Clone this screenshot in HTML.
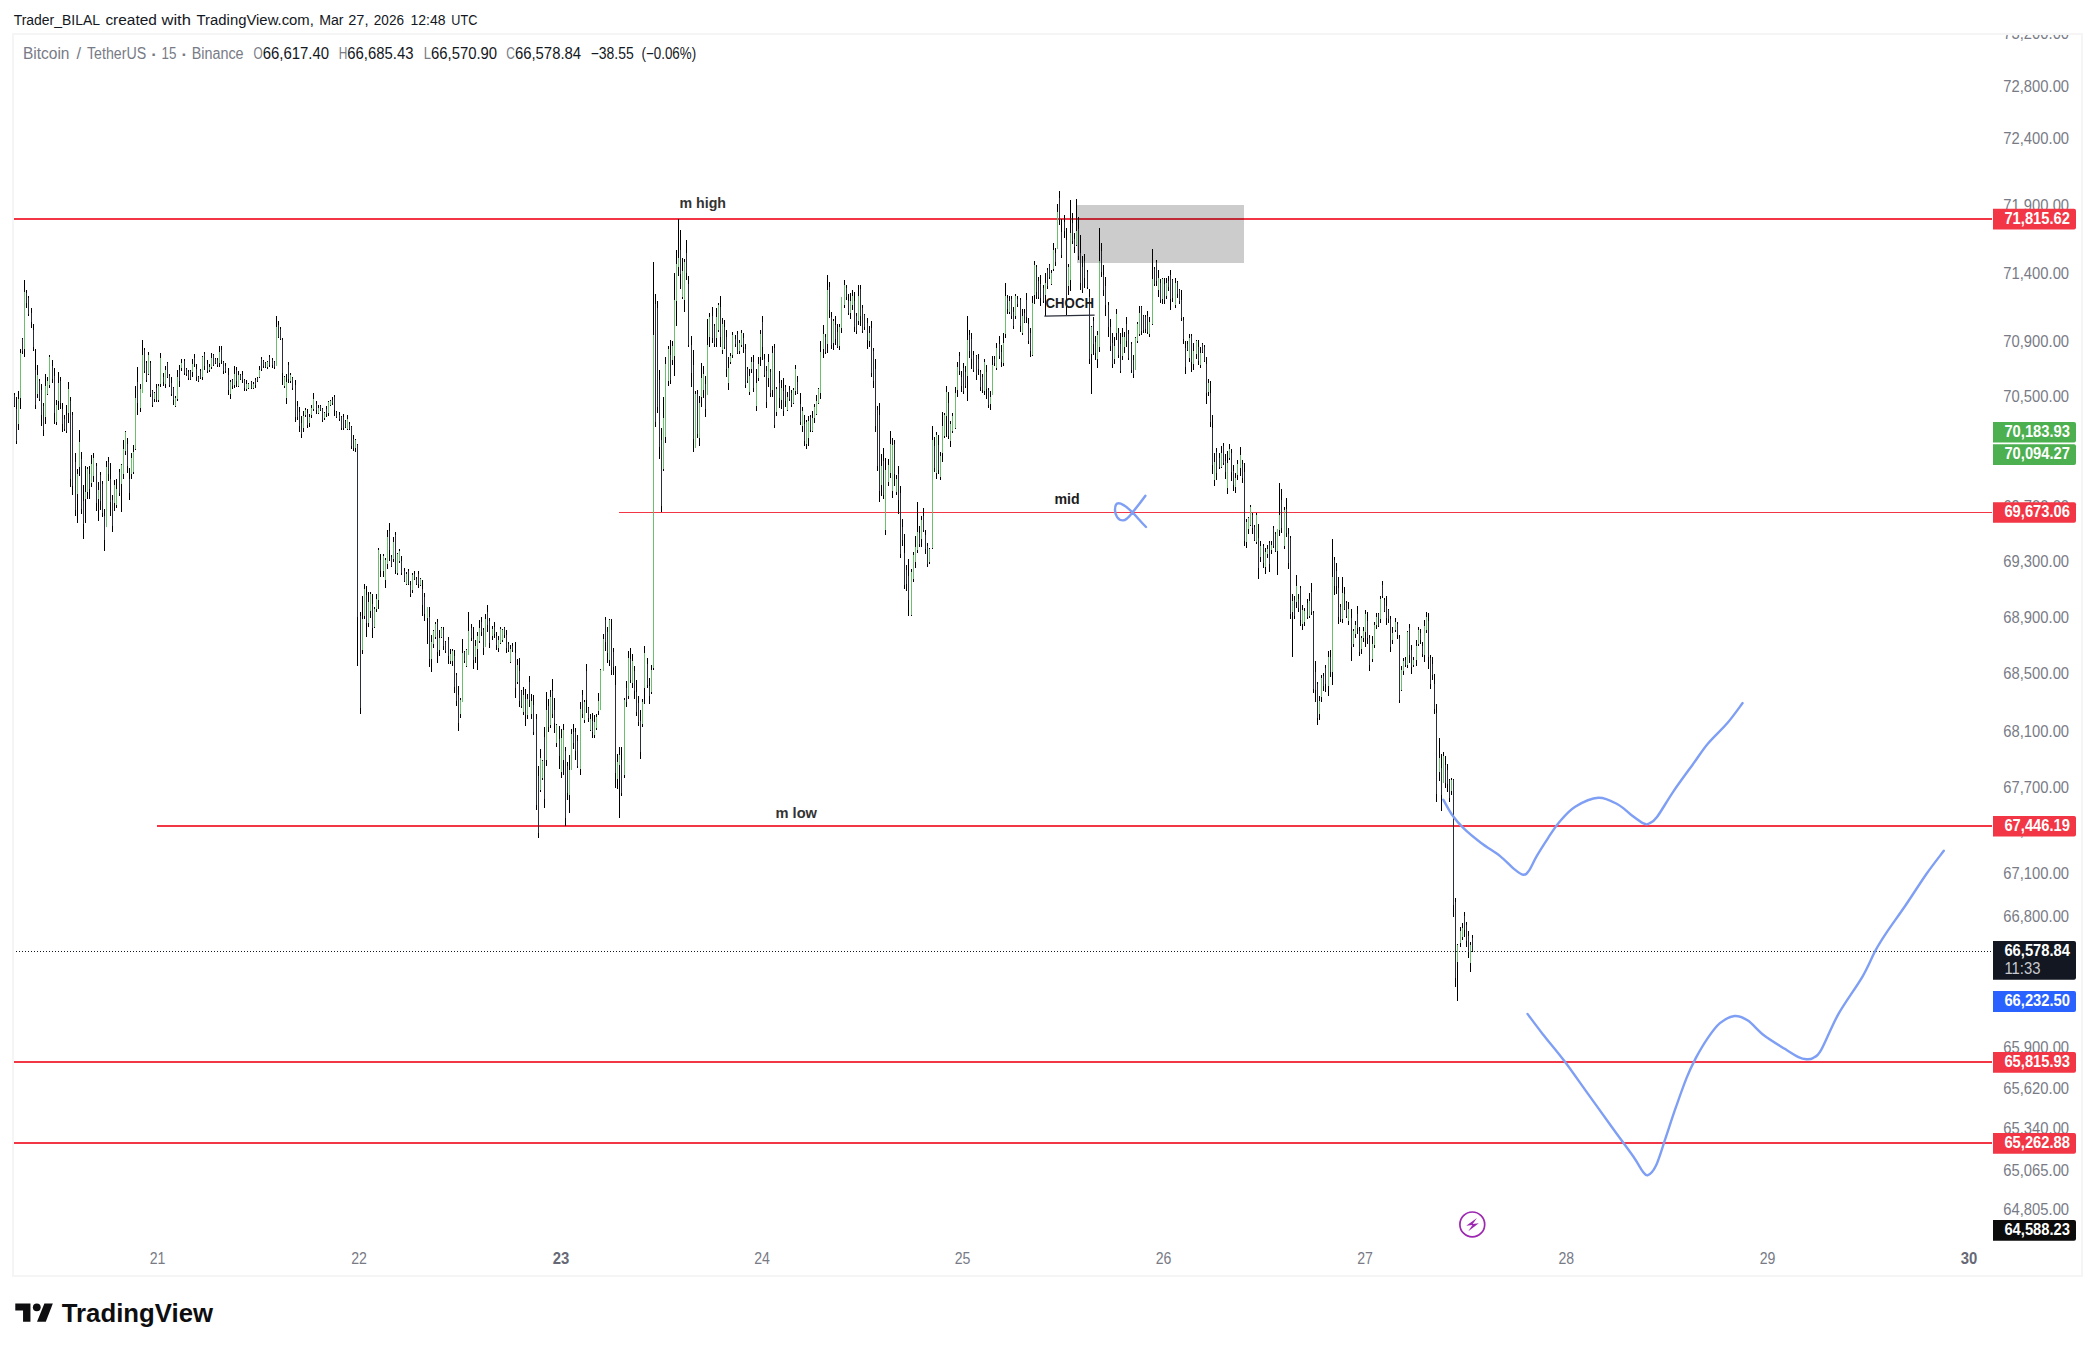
<!DOCTYPE html>
<html lang="en"><head><meta charset="utf-8"><title>BTCUSDT chart</title>
<style>html,body{margin:0;padding:0;background:#fff}body{width:2095px;height:1351px;overflow:hidden}svg{display:block}text{font-family:"Liberation Sans", sans-serif}</style>
</head><body>
<svg width="2095" height="1351" viewBox="0 0 2095 1351">
<rect x="0" y="0" width="2095" height="1351" fill="#ffffff"/>
<g id="frame">
<rect x="13" y="34" width="2069" height="1242" fill="none" stroke="#f5f5f5" stroke-width="2"/>
</g>
<text x="13.7" y="24.9" font-size="15.1" fill="#131722" font-weight="normal" text-anchor="start" textLength="86.3" lengthAdjust="spacingAndGlyphs">Trader_BILAL</text>
<text x="105.4" y="24.9" font-size="15.1" fill="#131722" font-weight="normal" text-anchor="start" textLength="51.5" lengthAdjust="spacingAndGlyphs">created</text>
<text x="161.5" y="24.9" font-size="15.1" fill="#131722" font-weight="normal" text-anchor="start" textLength="29.4" lengthAdjust="spacingAndGlyphs">with</text>
<text x="196.6" y="24.9" font-size="15.1" fill="#131722" font-weight="normal" text-anchor="start" textLength="117.3" lengthAdjust="spacingAndGlyphs">TradingView.com,</text>
<text x="319.2" y="24.9" font-size="15.1" fill="#131722" font-weight="normal" text-anchor="start" textLength="24.4" lengthAdjust="spacingAndGlyphs">Mar</text>
<text x="348.2" y="24.9" font-size="15.1" fill="#131722" font-weight="normal" text-anchor="start" textLength="20.3" lengthAdjust="spacingAndGlyphs">27,</text>
<text x="373.8" y="24.9" font-size="15.1" fill="#131722" font-weight="normal" text-anchor="start" textLength="30.2" lengthAdjust="spacingAndGlyphs">2026</text>
<text x="410.5" y="24.9" font-size="15.1" fill="#131722" font-weight="normal" text-anchor="start" textLength="35.1" lengthAdjust="spacingAndGlyphs">12:48</text>
<text x="451.3" y="24.9" font-size="15.1" fill="#131722" font-weight="normal" text-anchor="start" textLength="26.0" lengthAdjust="spacingAndGlyphs">UTC</text>
<text x="22.9" y="58.9" font-size="16" fill="#787b86" font-weight="normal" text-anchor="start" textLength="46.6" lengthAdjust="spacingAndGlyphs">Bitcoin</text>
<text x="76.4" y="58.9" font-size="16" fill="#787b86" font-weight="normal" text-anchor="start" textLength="4.6" lengthAdjust="spacingAndGlyphs">/</text>
<text x="87.0" y="58.9" font-size="16" fill="#787b86" font-weight="normal" text-anchor="start" textLength="59.2" lengthAdjust="spacingAndGlyphs">TetherUS</text>
<text x="154.1" y="60.1" font-size="17" fill="#787b86" font-weight="bold" text-anchor="middle">·</text>
<text x="161.5" y="58.9" font-size="16" fill="#787b86" font-weight="normal" text-anchor="start" textLength="14.9" lengthAdjust="spacingAndGlyphs">15</text>
<text x="184.4" y="60.1" font-size="17" fill="#787b86" font-weight="bold" text-anchor="middle">·</text>
<text x="191.7" y="58.9" font-size="16" fill="#787b86" font-weight="normal" text-anchor="start" textLength="51.9" lengthAdjust="spacingAndGlyphs">Binance</text>
<text x="253.5" y="58.9" font-size="16" fill="#787b86" font-weight="normal" text-anchor="start" textLength="9.2" lengthAdjust="spacingAndGlyphs">O</text>
<text x="262.7" y="58.9" font-size="16" fill="#131722" font-weight="normal" text-anchor="start" textLength="66.4" lengthAdjust="spacingAndGlyphs">66,617.40</text>
<text x="338.7" y="58.9" font-size="16" fill="#787b86" font-weight="normal" text-anchor="start" textLength="8.6" lengthAdjust="spacingAndGlyphs">H</text>
<text x="347.3" y="58.9" font-size="16" fill="#131722" font-weight="normal" text-anchor="start" textLength="66.2" lengthAdjust="spacingAndGlyphs">66,685.43</text>
<text x="423.8" y="58.9" font-size="16" fill="#787b86" font-weight="normal" text-anchor="start" textLength="7.2" lengthAdjust="spacingAndGlyphs">L</text>
<text x="431.0" y="58.9" font-size="16" fill="#131722" font-weight="normal" text-anchor="start" textLength="66.1" lengthAdjust="spacingAndGlyphs">66,570.90</text>
<text x="506.3" y="58.9" font-size="16" fill="#787b86" font-weight="normal" text-anchor="start" textLength="8.6" lengthAdjust="spacingAndGlyphs">C</text>
<text x="514.9" y="58.9" font-size="16" fill="#131722" font-weight="normal" text-anchor="start" textLength="66.2" lengthAdjust="spacingAndGlyphs">66,578.84</text>
<text x="590.7" y="58.9" font-size="16" fill="#131722" font-weight="normal" text-anchor="start" textLength="43.1" lengthAdjust="spacingAndGlyphs">−38.55</text>
<text x="641.5" y="58.9" font-size="16" fill="#131722" font-weight="normal" text-anchor="start" textLength="54.6" lengthAdjust="spacingAndGlyphs">(−0.06%)</text>
<defs><clipPath id="pane"><rect x="14" y="35" width="2067" height="1240"/></clipPath></defs>
<g clip-path="url(#pane)">
<text x="2003.3" y="38.7" font-size="15.9" fill="#787b86" font-weight="normal" text-anchor="start" textLength="65.8" lengthAdjust="spacingAndGlyphs">73,200.00</text>
<text x="2003.3" y="91.9" font-size="15.9" fill="#787b86" font-weight="normal" text-anchor="start" textLength="65.8" lengthAdjust="spacingAndGlyphs">72,800.00</text>
<text x="2003.3" y="144.2" font-size="15.9" fill="#787b86" font-weight="normal" text-anchor="start" textLength="65.8" lengthAdjust="spacingAndGlyphs">72,400.00</text>
<text x="2003.3" y="210.9" font-size="15.9" fill="#787b86" font-weight="normal" text-anchor="start" textLength="65.8" lengthAdjust="spacingAndGlyphs">71,900.00</text>
<text x="2003.3" y="279.4" font-size="15.9" fill="#787b86" font-weight="normal" text-anchor="start" textLength="65.8" lengthAdjust="spacingAndGlyphs">71,400.00</text>
<text x="2003.3" y="347.3" font-size="15.9" fill="#787b86" font-weight="normal" text-anchor="start" textLength="65.8" lengthAdjust="spacingAndGlyphs">70,900.00</text>
<text x="2003.3" y="401.7" font-size="15.9" fill="#787b86" font-weight="normal" text-anchor="start" textLength="65.8" lengthAdjust="spacingAndGlyphs">70,500.00</text>
<text x="2003.3" y="511.7" font-size="15.9" fill="#787b86" font-weight="normal" text-anchor="start" textLength="65.8" lengthAdjust="spacingAndGlyphs">69,700.00</text>
<text x="2003.3" y="567.3" font-size="15.9" fill="#787b86" font-weight="normal" text-anchor="start" textLength="65.8" lengthAdjust="spacingAndGlyphs">69,300.00</text>
<text x="2003.3" y="623.4" font-size="15.9" fill="#787b86" font-weight="normal" text-anchor="start" textLength="65.8" lengthAdjust="spacingAndGlyphs">68,900.00</text>
<text x="2003.3" y="679.2" font-size="15.9" fill="#787b86" font-weight="normal" text-anchor="start" textLength="65.8" lengthAdjust="spacingAndGlyphs">68,500.00</text>
<text x="2003.3" y="736.7" font-size="15.9" fill="#787b86" font-weight="normal" text-anchor="start" textLength="65.8" lengthAdjust="spacingAndGlyphs">68,100.00</text>
<text x="2003.3" y="793.3" font-size="15.9" fill="#787b86" font-weight="normal" text-anchor="start" textLength="65.8" lengthAdjust="spacingAndGlyphs">67,700.00</text>
<text x="2003.3" y="836.0" font-size="15.9" fill="#787b86" font-weight="normal" text-anchor="start" textLength="65.8" lengthAdjust="spacingAndGlyphs">67,400.00</text>
<text x="2003.3" y="879.1" font-size="15.9" fill="#787b86" font-weight="normal" text-anchor="start" textLength="65.8" lengthAdjust="spacingAndGlyphs">67,100.00</text>
<text x="2003.3" y="922.4" font-size="15.9" fill="#787b86" font-weight="normal" text-anchor="start" textLength="65.8" lengthAdjust="spacingAndGlyphs">66,800.00</text>
<text x="2003.3" y="965.6" font-size="15.9" fill="#787b86" font-weight="normal" text-anchor="start" textLength="65.8" lengthAdjust="spacingAndGlyphs">66,500.00</text>
<text x="2003.3" y="1009.3" font-size="15.9" fill="#787b86" font-weight="normal" text-anchor="start" textLength="65.8" lengthAdjust="spacingAndGlyphs">66,200.00</text>
<text x="2003.3" y="1052.5" font-size="15.9" fill="#787b86" font-weight="normal" text-anchor="start" textLength="65.8" lengthAdjust="spacingAndGlyphs">65,900.00</text>
<text x="2003.3" y="1094.1" font-size="15.9" fill="#787b86" font-weight="normal" text-anchor="start" textLength="65.8" lengthAdjust="spacingAndGlyphs">65,620.00</text>
<text x="2003.3" y="1134.0" font-size="15.9" fill="#787b86" font-weight="normal" text-anchor="start" textLength="65.8" lengthAdjust="spacingAndGlyphs">65,340.00</text>
<text x="2003.3" y="1176.3" font-size="15.9" fill="#787b86" font-weight="normal" text-anchor="start" textLength="65.8" lengthAdjust="spacingAndGlyphs">65,065.00</text>
<text x="2003.3" y="1215.2" font-size="15.9" fill="#787b86" font-weight="normal" text-anchor="start" textLength="65.8" lengthAdjust="spacingAndGlyphs">64,805.00</text>
<rect x="14" y="218" width="1978" height="2" fill="#f23645"/>
<rect x="619" y="512" width="1373" height="1" fill="#f23645"/>
<rect x="157" y="825" width="1835" height="2" fill="#f23645"/>
<rect x="14" y="1061" width="1978" height="2" fill="#f23645"/>
<rect x="14" y="1142" width="1978" height="2" fill="#f23645"/>
<line x1="13" y1="951.5" x2="1991" y2="951.5" stroke="#131722" stroke-width="1" stroke-dasharray="1 2" shape-rendering="crispEdges"/>
<g id="candles" fill="none" stroke-width="1" shape-rendering="crispEdges"><path stroke="#000000" d="M14.5,393V407M16.5,397V444M18.5,391V430M20.5,349V409M22.5,338V354M24.5,280V357M26.5,290V308M28.5,296V316M31.5,308V328M33.5,324V351M35.5,349V409M37.5,365V398M39.5,379V401M41.5,384V426M43.5,403V436M45.5,374V424M47.5,377V395M49.5,355V388M52.5,360V383M54.5,368V424M56.5,400V425M58.5,372V410M60.5,377V409M62.5,403V432M64.5,415V431M66.5,405V433M68.5,382V423M70.5,397V487M72.5,412V495M75.5,453V516M77.5,469V523M79.5,430V476M81.5,452V514M83.5,485V539M85.5,466V523M87.5,467V499M89.5,466V499M91.5,455V487M93.5,453V482M96.5,463V511M98.5,482V521M100.5,472V510M102.5,481V517M104.5,509V551M106.5,461V527M108.5,457V481M110.5,463V516M112.5,495V532M114.5,480V511M116.5,479V508M119.5,469V496M121.5,464V512M123.5,440V479M125.5,431V455M127.5,438V473M129.5,468V500M131.5,453V479M133.5,445V474M135.5,386V450M137.5,367V415M140.5,384V412M142.5,340V393M144.5,348V373M146.5,361V382M148.5,352V375M150.5,361V397M152.5,390V407M154.5,392V402M156.5,384V402M158.5,384V402M160.5,353V387M163.5,373V386M165.5,366V388M167.5,362V378M169.5,374V387M171.5,377V396M173.5,387V405M175.5,396V407M177.5,370V401M179.5,365V387M181.5,359V371M184.5,359V375M186.5,368V376M188.5,370V380M190.5,370V380M192.5,359V377M194.5,354V367M196.5,364V381M198.5,376V382M200.5,369V379M202.5,356V380M204.5,352V370M207.5,360V373M209.5,364V372M211.5,353V369M213.5,354V366M215.5,358V364M217.5,358V367M219.5,346V367M221.5,346V364M223.5,361V374M225.5,363V373M228.5,368V395M230.5,380V399M232.5,379V389M234.5,366V388M236.5,367V387M238.5,371V387M240.5,374V380M242.5,371V383M244.5,379V391M246.5,380V391M248.5,383V389M251.5,381V389M253.5,382V389M255.5,378V388M257.5,377V382M259.5,366V378M261.5,357V371M263.5,360V368M265.5,362V368M267.5,361V369M269.5,355V367M272.5,358V368M274.5,361V369M276.5,316V366M278.5,321V338M280.5,327V340M282.5,338V385M284.5,376V388M286.5,374V404M288.5,362V383M290.5,373V383M292.5,377V390M295.5,380V422M297.5,401V420M299.5,407V432M301.5,416V438M303.5,411V432M305.5,408V417M307.5,409V428M309.5,414V427M311.5,405V418M313.5,393V411M316.5,401V414M318.5,405V414M320.5,405V411M322.5,408V422M324.5,412V420M326.5,406V417M328.5,401V416M330.5,400V406M332.5,397V405M334.5,395V416M336.5,411V418M339.5,412V421M341.5,416V430M343.5,414V430M345.5,420V428M347.5,415V430M349.5,422V430M351.5,426V449M353.5,435V451M355.5,439V452M357.5,444V666M360.5,612V714M362.5,596V654M364.5,584V619M366.5,586V637M368.5,592V627M370.5,592V618M372.5,594V638M374.5,607V628M376.5,594V612M378.5,548V609M380.5,554V577M383.5,554V577M385.5,558V588M387.5,530V569M389.5,523V561M391.5,555V567M393.5,537V562M395.5,532V574M397.5,553V575M399.5,549V563M401.5,556V575M404.5,568V582M406.5,572V585M408.5,569V585M410.5,581V597M412.5,573V593M414.5,571V580M416.5,577V585M418.5,571V588M420.5,578V586M422.5,580V616M424.5,593V621M427.5,607V644M429.5,607V667M431.5,635V672M433.5,630V648M435.5,622V639M437.5,619V663M439.5,630V656M441.5,627V638M443.5,627V650M445.5,641V653M448.5,637V664M450.5,649V664M452.5,649V666M454.5,650V693M456.5,673V706M458.5,686V731M460.5,698V718M462.5,639V702M464.5,651V663M466.5,649V667M468.5,612V655M471.5,624V641M473.5,627V669M475.5,640V663M477.5,632V670M479.5,620V643M481.5,617V636M483.5,628V655M485.5,614V647M487.5,605V632M489.5,618V648M492.5,626V640M494.5,622V638M496.5,632V650M498.5,636V652M500.5,627V644M502.5,629V642M504.5,627V638M506.5,630V653M508.5,642V652M510.5,645V663M512.5,643V652M515.5,642V698M517.5,659V684M519.5,658V707M521.5,690V708M523.5,687V715M525.5,689V726M527.5,694V719M529.5,676V707M531.5,694V719M533.5,695V735M536.5,714V810M538.5,766V838M540.5,749V792M542.5,760V780M544.5,727V808M546.5,692V766M548.5,699V732M550.5,690V728M552.5,679V718M554.5,698V733M556.5,724V747M559.5,726V769M561.5,729V778M563.5,724V775M565.5,747V826M567.5,762V800M569.5,755V813M571.5,729V770M573.5,724V749M575.5,728V760M577.5,735V768M580.5,702V775M582.5,690V718M584.5,700V723M586.5,664V713M588.5,707V722M590.5,714V731M592.5,713V738M594.5,715V738M596.5,714V730M598.5,693V715M600.5,669V710M603.5,634V671M605.5,617V651M607.5,627V663M609.5,619V666M611.5,619V675M613.5,648V675M615.5,666V788M617.5,754V789M619.5,747V818M621.5,747V796M624.5,698V778M626.5,681V707M628.5,651V699M630.5,648V683M632.5,654V688M634.5,666V699M636.5,680V716M638.5,696V726M640.5,710V759M642.5,699V727M644.5,646V704M647.5,658V688M649.5,678V704M651.5,665V694M653.5,262V670M655.5,294V427M657.5,301V413M659.5,370V459M661.5,428V512M663.5,397V471M665.5,357V443M668.5,346V386M670.5,340V384M672.5,341V365M674.5,273V376M676.5,250V326M678.5,219V276M680.5,230V289M682.5,258V299M684.5,259V312M686.5,240V280M688.5,276V347M691.5,336V387M693.5,350V452M695.5,391V448M697.5,390V438M699.5,396V446M701.5,363V407M703.5,366V398M705.5,376V417M707.5,319V395M709.5,313V347M712.5,307V343M714.5,324V347M716.5,308V347M718.5,303V332M720.5,296V347M722.5,318V354M724.5,320V349M726.5,330V377M728.5,357V390M730.5,353V364M732.5,332V358M735.5,335V347M737.5,331V354M739.5,340V354M741.5,330V347M743.5,333V353M745.5,344V388M747.5,367V383M749.5,369V395M751.5,357V373M753.5,355V392M756.5,369V411M758.5,357V381M760.5,330V366M762.5,316V360M764.5,354V377M766.5,366V408M768.5,354V387M770.5,369V397M772.5,346V397M774.5,344V428M776.5,387V416M779.5,371V408M781.5,380V409M783.5,378V416M785.5,385V407M787.5,392V411M789.5,386V401M791.5,390V407M793.5,388V404M795.5,365V395M797.5,376V394M800.5,393V425M802.5,407V432M804.5,415V446M806.5,420V449M808.5,416V446M810.5,415V432M812.5,411V432M814.5,404V423M816.5,395V415M818.5,388V404M820.5,341V399M823.5,325V358M825.5,334V354M827.5,275V353M829.5,282V318M831.5,312V349M833.5,319V350M835.5,316V345M837.5,324V348M839.5,324V350M841.5,297V333M844.5,280V308M846.5,285V300M848.5,294V315M850.5,293V319M852.5,290V310M854.5,292V332M856.5,313V334M858.5,285V325M860.5,285V326M862.5,305V333M864.5,314V330M867.5,318V349M869.5,326V347M871.5,321V377M873.5,348V388M875.5,359V432M877.5,406V471M879.5,403V502M881.5,454V496M883.5,448V499M885.5,458V535M888.5,459V486M890.5,431V478M892.5,438V498M894.5,440V486M896.5,475V495M898.5,466V514M900.5,486V558M902.5,519V546M904.5,534V589M906.5,565V591M908.5,559V616M911.5,569V616M913.5,552V582M915.5,536V568M917.5,502V553M919.5,526V547M921.5,516V547M923.5,508V532M925.5,530V554M927.5,543V567M929.5,548V564M932.5,426V549M934.5,437V472M936.5,432V479M938.5,435V474M940.5,452V480M942.5,412V462M944.5,413V438M946.5,386V437M948.5,392V439M950.5,421V447M952.5,413V433M955.5,387V429M957.5,362V397M959.5,352V375M961.5,371V392M963.5,363V394M965.5,366V388M967.5,316V401M969.5,330V358M971.5,333V369M973.5,351V372M976.5,355V380M978.5,354V375M980.5,370V391M982.5,374V393M984.5,359V395M986.5,365V399M988.5,388V408M990.5,391V410M992.5,356V395M994.5,356V366M996.5,343V370M999.5,336V359M1001.5,345V367M1003.5,333V366M1005.5,283V338M1007.5,295V314M1009.5,296V314M1011.5,296V319M1013.5,307V329M1015.5,294V319M1017.5,296V307M1020.5,298V332M1022.5,309V335M1024.5,309V323M1026.5,293V323M1028.5,318V344M1030.5,328V357M1032.5,296V356M1034.5,261V304M1036.5,265V299M1038.5,277V299M1040.5,275V306M1043.5,285V303M1045.5,273V316M1047.5,268V289M1049.5,264V279M1051.5,270V285M1053.5,243V271M1055.5,248V266M1057.5,204V249M1059.5,191V225M1061.5,219V258M1064.5,215V238M1066.5,228V315M1068.5,264V295M1070.5,200V291M1072.5,213V244M1074.5,233V253M1076.5,199V246M1078.5,217V260M1080.5,235V290M1082.5,256V293M1084.5,254V288M1087.5,270V289M1089.5,289V364M1091.5,326V394M1093.5,317V355M1095.5,336V360M1097.5,331V368M1099.5,228V352M1101.5,243V277M1103.5,265V296M1105.5,277V316M1108.5,302V337M1110.5,319V351M1112.5,333V368M1114.5,337V364M1116.5,309V340M1118.5,328V358M1120.5,333V373M1122.5,328V360M1124.5,332V353M1126.5,317V347M1128.5,330V360M1131.5,342V373M1133.5,355V378M1135.5,337V370M1137.5,322V343M1139.5,306V336M1141.5,306V335M1143.5,315V333M1145.5,315V333M1147.5,311V334M1149.5,317V337M1152.5,249V325M1154.5,267V286M1156.5,260V286M1158.5,270V297M1160.5,279V303M1162.5,278V304M1164.5,278V304M1166.5,278V299M1168.5,276V291M1170.5,270V310M1172.5,279V302M1175.5,278V308M1177.5,281V298M1179.5,289V304M1181.5,290V321M1183.5,317V344M1185.5,341V374M1187.5,341V351M1189.5,334V362M1191.5,334V372M1193.5,343V370M1196.5,340V359M1198.5,340V365M1200.5,347V368M1202.5,343V353M1204.5,345V362M1206.5,357V404M1208.5,379V396M1210.5,381V427M1212.5,415V474M1214.5,453V486M1216.5,448V480M1219.5,453V469M1221.5,446V468M1223.5,443V465M1225.5,454V479M1227.5,451V494M1229.5,444V460M1231.5,449V481M1233.5,465V491M1235.5,473V493M1237.5,460V480M1240.5,447V476M1242.5,460V483M1244.5,463V546M1246.5,519V548M1248.5,517V534M1250.5,505V526M1252.5,513V534M1254.5,525V541M1256.5,513V544M1258.5,524V579M1260.5,541V562M1263.5,544V568M1265.5,548V574M1267.5,545V558M1269.5,541V572M1271.5,541V554M1273.5,526V548M1275.5,532V552M1277.5,529V575M1279.5,483V536M1281.5,489V533M1284.5,507V549M1286.5,498V537M1288.5,528V569M1290.5,536V619M1292.5,594V657M1294.5,596V619M1296.5,575V608M1298.5,594V612M1300.5,586V626M1302.5,605V630M1304.5,608V626M1307.5,599V619M1309.5,593V618M1311.5,583V615M1313.5,611V693M1315.5,661V702M1317.5,682V725M1319.5,696V720M1321.5,675V702M1323.5,673V691M1325.5,665V692M1328.5,651V696M1330.5,650V677M1332.5,539V685M1334.5,557V595M1336.5,563V594M1338.5,577V624M1340.5,604V622M1342.5,577V623M1344.5,587V610M1346.5,601V618M1348.5,602V625M1351.5,609V661M1353.5,629V647M1355.5,621V638M1357.5,606V634M1359.5,627V656M1361.5,636V654M1363.5,627V642M1365.5,610V647M1367.5,612V644M1369.5,635V671M1372.5,636V662M1374.5,622V648M1376.5,613V629M1378.5,613V627M1380.5,596V623M1382.5,581V598M1384.5,598V612M1386.5,596V625M1388.5,609V623M1390.5,616V652M1392.5,627V644M1395.5,618V632M1397.5,622V639M1399.5,635V703M1401.5,666V691M1403.5,658V675M1405.5,657V667M1407.5,631V668M1409.5,624V663M1411.5,645V674M1413.5,657V667M1416.5,640V666M1418.5,627V646M1420.5,629V644M1422.5,642V657M1424.5,620V662M1426.5,612V633M1428.5,613V669M1430.5,655V689M1432.5,657V680M1434.5,674V714M1436.5,704V802M1439.5,738V781M1441.5,754V811M1443.5,752V783M1445.5,756V788M1447.5,764V792M1449.5,779V802M1451.5,778V795M1453.5,779V917M1455.5,898V987M1457.5,944V1001M1460.5,927V947M1462.5,923V940M1464.5,912V937M1466.5,922V947M1468.5,931V958M1470.5,942V972M1472.5,935V952"/><path stroke="#2a2e39" d="M14.5,395V406M16.5,409V441M22.5,339V351M26.5,293V303M28.5,298V314M31.5,313V322M33.5,330V347M35.5,370V405M39.5,381V399M41.5,390V415M43.5,406V430M52.5,366V379M54.5,376V413M60.5,381V403M62.5,409V424M64.5,419V429M66.5,415V431M70.5,401V479M72.5,415V486M75.5,462V510M81.5,459V509M83.5,501V524M89.5,474V489M96.5,466V503M100.5,475V501M102.5,484V513M104.5,516V540M108.5,462V474M110.5,479V502M112.5,500V526M119.5,472V493M127.5,444V466M129.5,479V493M137.5,382V403M144.5,350V371M146.5,363V380M150.5,363V394M152.5,391V405M156.5,388V400M163.5,377V382M167.5,363V377M169.5,376V385M171.5,383V394M173.5,388V400M179.5,370V381M184.5,361V373M186.5,369V374M188.5,372V378M190.5,371V379M194.5,358V364M196.5,369V377M198.5,377V381M200.5,371V378M204.5,354V366M207.5,364V371M213.5,355V365M215.5,359V363M217.5,360V365M221.5,350V360M223.5,362V371M225.5,366V371M228.5,375V390M232.5,380V386M236.5,370V381M240.5,375V379M242.5,375V380M244.5,380V388M251.5,382V388M255.5,380V385M257.5,378V381M261.5,359V369M263.5,361V366M265.5,363V367M269.5,357V365M272.5,360V365M274.5,362V367M278.5,325V337M280.5,329V339M282.5,340V373M288.5,365V379M292.5,378V388M295.5,385V417M297.5,406V417M299.5,412V426M301.5,423V434M307.5,413V425M316.5,404V410M320.5,406V410M322.5,409V420M326.5,409V414M332.5,400V403M334.5,397V410M336.5,412V417M339.5,415V419M341.5,417V428M343.5,417V428M345.5,421V427M349.5,424V429M351.5,427V446M353.5,439V448M357.5,445V617M360.5,616V708M366.5,595V623M372.5,604V628M380.5,560V571M389.5,531V550M391.5,557V566M395.5,535V570M401.5,561V573M404.5,571V581M408.5,571V584M410.5,585V594M414.5,574V579M416.5,579V584M418.5,574V584M422.5,589V605M424.5,597V614M429.5,617V659M437.5,622V652M443.5,630V646M445.5,642V651M448.5,640V656M454.5,656V687M456.5,675V701M458.5,695V723M464.5,652V661M471.5,628V638M473.5,639V660M481.5,622V632M483.5,630V648M487.5,612V625M489.5,621V643M494.5,627V634M496.5,636V645M504.5,628V635M506.5,635V648M508.5,644V650M512.5,646V650M515.5,653V688M519.5,671V701M521.5,691V706M525.5,699V715M529.5,682V700M533.5,705V732M536.5,719V805M538.5,776V833M544.5,737V799M548.5,706V727M552.5,691V714M554.5,710V723M559.5,739V756M565.5,751V818M567.5,766V793M573.5,732V743M575.5,732V751M577.5,741V766M582.5,695V714M586.5,671V700M588.5,708V718M592.5,721V732M605.5,620V642M607.5,632V653M611.5,630V670M613.5,652V667M615.5,685V773M621.5,760V793M626.5,688V702M630.5,659V680M634.5,671V691M636.5,692V712M638.5,703V722M640.5,721V752M647.5,664V685M649.5,686V696M655.5,304V422M657.5,308V407M659.5,380V447M661.5,440V506M670.5,355V380M680.5,250V274M686.5,253V273M688.5,284V345M691.5,345V373M693.5,365V439M697.5,394V434M705.5,384V409M712.5,316V338M714.5,326V344M720.5,307V337M724.5,327V347M726.5,337V369M735.5,339V344M737.5,334V353M743.5,338V347M745.5,349V385M747.5,369V381M753.5,362V388M762.5,322V347M764.5,359V375M766.5,371V402M770.5,372V393M774.5,348V425M779.5,383V398M783.5,391V411M785.5,387V401M789.5,390V399M791.5,393V405M797.5,382V393M800.5,404V422M804.5,424V441M810.5,417V430M825.5,337V352M829.5,287V310M831.5,317V345M835.5,325V339M837.5,332V347M846.5,288V297M848.5,301V313M854.5,301V327M856.5,316V331M860.5,289V316M862.5,308V331M864.5,315V327M867.5,323V340M871.5,328V373M873.5,351V381M875.5,369V426M877.5,410V466M879.5,415V491M883.5,461V495M894.5,444V474M898.5,474V500M900.5,493V554M902.5,527V540M904.5,553V585M906.5,570V584M908.5,576V600M919.5,533V544M923.5,516V530M925.5,535V549M927.5,546V564M934.5,446V468M938.5,445V470M948.5,403V436M959.5,356V371M961.5,377V386M963.5,368V391M965.5,372V386M969.5,335V351M971.5,339V359M973.5,355V370M976.5,356V375M978.5,359V369M980.5,372V387M982.5,377V390M986.5,372V389M988.5,390V405M994.5,359V363M999.5,344V356M1001.5,352V362M1007.5,298V309M1011.5,299V316M1013.5,312V326M1017.5,299V304M1020.5,300V326M1024.5,313V322M1026.5,300V317M1028.5,324V341M1030.5,333V351M1036.5,267V292M1038.5,281V297M1040.5,284V298M1043.5,288V301M1047.5,270V286M1049.5,265V277M1055.5,253V262M1059.5,198V220M1061.5,232V255M1064.5,222V231M1066.5,240V304M1072.5,223V241M1074.5,239V247M1078.5,229V256M1080.5,253V283M1082.5,267V290M1084.5,261V278M1087.5,272V287M1089.5,297V359M1093.5,321V344M1095.5,342V353M1101.5,251V272M1103.5,275V290M1105.5,286V305M1108.5,305V327M1110.5,327V346M1112.5,343V364M1118.5,333V355M1120.5,344V371M1126.5,324V341M1128.5,334V358M1131.5,344V370M1133.5,360V374M1141.5,307V331M1143.5,316V330M1145.5,317V329M1147.5,316V332M1154.5,269V284M1156.5,262V281M1160.5,283V300M1164.5,284V300M1168.5,281V287M1170.5,275V299M1172.5,280V298M1177.5,282V294M1179.5,290V301M1181.5,300V318M1183.5,320V339M1185.5,348V367M1187.5,344V350M1191.5,336V362M1198.5,347V361M1202.5,344V352M1204.5,347V361M1206.5,364V393M1210.5,393V422M1212.5,428V465M1216.5,452V473M1219.5,458V467M1223.5,446V463M1225.5,461V472M1231.5,453V472M1233.5,471V485M1242.5,464V478M1244.5,472V541M1252.5,515V528M1254.5,527V540M1258.5,538V568M1263.5,546V563M1269.5,543V564M1273.5,528V546M1275.5,534V551M1281.5,500V528M1286.5,509V533M1288.5,534V563M1290.5,538V614M1294.5,600V616M1298.5,599V608M1300.5,588V620M1307.5,603V617M1311.5,592V612M1313.5,613V689M1315.5,672V690M1317.5,684V718M1323.5,676V686M1325.5,668V684M1330.5,657V672M1334.5,560V586M1336.5,571V586M1338.5,588V617M1340.5,607V619M1344.5,594V609M1346.5,603V616M1351.5,618V647M1357.5,614V628M1359.5,631V652M1367.5,621V638M1369.5,638V665M1378.5,614V626M1382.5,585V596M1384.5,600V611M1386.5,606V618M1388.5,610V619M1390.5,619V647M1397.5,624V635M1399.5,638V700M1405.5,660V665M1409.5,628V655M1411.5,650V667M1420.5,633V640M1422.5,646V654M1428.5,621V657M1430.5,658V684M1432.5,664V675M1434.5,684V709M1436.5,713V794M1441.5,768V795M1445.5,765V783M1447.5,770V784M1449.5,780V798M1453.5,780V905M1455.5,902V978M1464.5,916V930M1466.5,925V941M1468.5,936V952M1472.5,938V951"/><path stroke="#6dbf70" d="M18.5,399V424M20.5,353V398M24.5,292V349M37.5,375V394M45.5,386V417M47.5,381V394M49.5,357V385M56.5,405V422M58.5,383V401M68.5,389V413M77.5,474V494M79.5,442V467M85.5,492V499M87.5,469V492M91.5,464V483M93.5,458V476M98.5,490V499M106.5,467V527M114.5,485V503M116.5,489V505M121.5,465V484M123.5,449V474M125.5,432V451M131.5,458V474M133.5,452V472M135.5,398V449M140.5,389V408M142.5,355V393M148.5,355V374M154.5,393V399M158.5,386V400M160.5,358V384M165.5,370V384M175.5,398V406M177.5,377V399M181.5,363V368M192.5,364V372M202.5,357V377M209.5,367V370M211.5,358V367M219.5,352V363M230.5,382V394M234.5,374V385M238.5,375V386M246.5,384V389M248.5,384V388M253.5,384V388M259.5,370V377M267.5,362V367M276.5,327V366M284.5,377V386M286.5,382V398M290.5,375V381M303.5,416V428M305.5,410V415M309.5,417V423M311.5,408V415M313.5,399V409M318.5,408V413M324.5,413V418M328.5,402V413M330.5,401V405M347.5,419V429M355.5,440V448M362.5,619V650M364.5,589V616M368.5,602V623M370.5,594V611M374.5,609V627M376.5,599V609M378.5,550V600M383.5,556V571M385.5,560V580M387.5,537V564M393.5,542V559M397.5,554V573M399.5,551V561M406.5,574V584M412.5,575V590M420.5,579V585M427.5,607V618M431.5,642V659M433.5,631V644M435.5,624V637M439.5,638V650M441.5,628V637M450.5,654V661M452.5,651V661M460.5,700V714M462.5,653V702M466.5,650V666M468.5,631V655M475.5,646V657M477.5,636V649M479.5,628V641M485.5,619V647M492.5,629V636M498.5,640V648M500.5,629V643M502.5,630V640M510.5,649V662M517.5,665V682M523.5,695V712M527.5,699V715M531.5,701V714M540.5,758V790M542.5,761V778M546.5,710V760M550.5,697V725M556.5,725V743M561.5,738V772M563.5,730V760M569.5,770V795M571.5,734V770M580.5,709V769M584.5,702V720M590.5,719V730M594.5,722V735M596.5,717V728M598.5,701V711M600.5,670V710M603.5,639V671M609.5,620V660M617.5,762V779M619.5,755V765M624.5,700V775M628.5,658V696M632.5,661V683M642.5,702V724M644.5,653V688M651.5,670V692M653.5,335V668M663.5,418V469M665.5,364V437M668.5,349V381M672.5,346V360M674.5,300V356M676.5,264V301M678.5,258V267M682.5,271V297M684.5,262V300M695.5,394V448M699.5,403V438M701.5,378V397M703.5,374V390M707.5,345V395M709.5,317V337M716.5,317V338M718.5,305V330M722.5,324V350M728.5,368V383M730.5,356V362M732.5,335V355M739.5,343V351M741.5,333V345M749.5,376V392M751.5,362V369M756.5,383V406M758.5,364V378M760.5,334V357M768.5,362V378M772.5,353V390M776.5,389V412M781.5,388V400M787.5,397V410M793.5,390V403M795.5,369V391M802.5,411V426M806.5,422V444M808.5,421V438M812.5,418V431M814.5,407V418M816.5,401V414M818.5,389V403M820.5,352V393M823.5,334V349M827.5,290V344M833.5,321V343M839.5,327V346M841.5,297V328M844.5,285V305M850.5,301V313M852.5,296V305M858.5,296V321M869.5,333V341M881.5,466V485M885.5,470V530M888.5,465V482M890.5,444V473M892.5,445V491M896.5,479V492M911.5,572V615M913.5,555V579M915.5,547V562M917.5,532V550M921.5,520V539M929.5,549V562M932.5,440V548M936.5,435V473M940.5,456V477M942.5,426V453M944.5,415V436M946.5,392V416M950.5,424V441M952.5,416V431M955.5,393V428M957.5,367V390M967.5,340V376M984.5,362V391M990.5,397V404M992.5,365V395M996.5,348V368M1003.5,343V363M1005.5,296V334M1009.5,301V312M1015.5,296V316M1022.5,316V333M1032.5,303V355M1034.5,265V295M1045.5,283V295M1051.5,273V284M1053.5,250V269M1057.5,212V249M1068.5,267V286M1070.5,233V280M1076.5,231V245M1091.5,327V354M1097.5,335V359M1099.5,261V347M1114.5,346V359M1116.5,314V333M1122.5,337V356M1124.5,337V347M1135.5,338V370M1137.5,324V341M1139.5,313V334M1149.5,322V334M1152.5,279V324M1158.5,278V290M1162.5,279V299M1166.5,283V296M1175.5,283V305M1189.5,338V358M1193.5,351V364M1196.5,341V354M1200.5,353V365M1208.5,383V392M1214.5,462V480M1221.5,453V467M1227.5,463V488M1229.5,449V458M1235.5,478V487M1237.5,464V475M1240.5,455V468M1246.5,522V542M1248.5,518V529M1250.5,507V525M1256.5,515V542M1260.5,546V557M1265.5,552V567M1267.5,549V554M1271.5,545V550M1277.5,529V551M1279.5,515V530M1284.5,510V546M1292.5,601V612M1296.5,586V602M1302.5,610V624M1304.5,611V622M1309.5,601V616M1319.5,701V714M1321.5,678V697M1328.5,657V686M1332.5,577V672M1342.5,593V619M1348.5,609V621M1353.5,631V644M1355.5,625V634M1361.5,638V649M1363.5,631V638M1365.5,614V632M1372.5,644V659M1374.5,625V645M1376.5,617V625M1380.5,599V619M1392.5,633V640M1395.5,622V630M1401.5,670V690M1403.5,661V671M1407.5,632V665M1413.5,660V665M1416.5,646V660M1418.5,630V644M1424.5,626V655M1426.5,617V630M1439.5,758V772M1443.5,756V783M1451.5,780V791M1457.5,945V962M1460.5,931V943M1462.5,928V937M1470.5,945V963"/></g>
<rect x="1077" y="205" width="167" height="58" fill="#000000" fill-opacity="0.2"/>
<text x="679.5" y="207.6" font-size="14" fill="#333333" font-weight="bold" text-anchor="start" textLength="46.5" lengthAdjust="spacingAndGlyphs">m high</text>
<text x="1054.4" y="503.8" font-size="14" fill="#1c1c1c" font-weight="bold" text-anchor="start" textLength="25.2" lengthAdjust="spacingAndGlyphs">mid</text>
<text x="775.5" y="817.7" font-size="14" fill="#333333" font-weight="bold" text-anchor="start" textLength="41.5" lengthAdjust="spacingAndGlyphs">m low</text>
<path d="M1044.4,316.1 L1094.6,315.1" fill="none" stroke="#2a2e39" stroke-width="1.1"/>
<text x="1045.5" y="308.0" font-size="14" fill="#1c1c1c" font-weight="bold" text-anchor="start" textLength="48.5" lengthAdjust="spacingAndGlyphs">CHOCH</text>
<path d="M1145.4,495.8 C1141,502 1137,507 1132.5,512.4 C1129,517 1126,520.4 1123,520.4 C1118,520.4 1115,515 1115,510 C1115,506 1116,503.3 1118.5,503.3 C1122,503.3 1128,508 1132.5,512.4 C1137,517 1141,522 1146,527" fill="none" stroke="#7f9ff5" stroke-width="2.4" stroke-linecap="round"/>
<path d="M1443.3,799.7 C1444.8,802.2 1448.6,810.0 1452.0,814.7 C1455.4,819.5 1458.7,823.5 1463.5,828.2 C1468.3,832.9 1474.7,838.1 1480.8,842.7 C1486.9,847.4 1494.6,851.8 1500.1,856.1 C1505.6,860.4 1509.8,865.5 1513.6,868.6 C1517.4,871.7 1520.6,874.5 1523.2,874.8 C1525.8,875.1 1526.8,873.7 1529.0,870.6 C1531.2,867.5 1533.5,861.6 1536.7,856.1 C1539.9,850.6 1544.4,843.6 1548.2,837.8 C1552.0,832.0 1555.3,826.7 1559.8,821.5 C1564.3,816.3 1568.8,810.7 1575.2,806.7 C1581.6,802.8 1591.2,798.2 1598.3,797.8 C1605.3,797.4 1612.0,801.4 1617.5,804.2 C1623.0,807.0 1626.7,811.5 1631.0,814.7 C1635.3,817.9 1640.5,822.0 1643.5,823.4 C1646.5,824.8 1647.0,824.5 1649.3,823.4 C1651.5,822.3 1653.0,822.3 1657.0,817.0 C1661.0,811.7 1667.4,800.3 1673.3,791.6 C1679.2,782.9 1686.8,772.7 1692.6,764.7 C1698.4,756.7 1702.2,750.4 1708.0,743.5 C1713.8,736.6 1721.4,730.0 1727.2,723.3 C1733.0,716.6 1740.0,706.5 1742.6,703.1" fill="none" stroke="#7f9ff5" stroke-width="2.4" stroke-linecap="round" stroke-linejoin="round"/>
<path d="M1527.5,1013.9 C1530.0,1017.2 1536.5,1026.1 1542.6,1033.9 C1548.7,1041.7 1556.4,1050.5 1564.0,1060.5 C1571.6,1070.5 1580.0,1082.8 1588.0,1093.9 C1596.0,1105.0 1604.5,1116.8 1612.0,1127.2 C1619.5,1137.6 1628.2,1149.2 1633.3,1156.5 C1638.4,1163.8 1640.2,1168.1 1642.6,1171.2 C1645.0,1174.3 1645.7,1176.1 1647.9,1175.2 C1650.1,1174.3 1653.0,1171.8 1655.9,1165.8 C1658.8,1159.8 1661.9,1149.0 1665.2,1139.2 C1668.5,1129.4 1672.3,1117.4 1675.9,1107.2 C1679.5,1097.0 1683.3,1086.1 1686.6,1077.9 C1689.9,1069.7 1692.4,1064.6 1695.9,1057.9 C1699.5,1051.2 1703.9,1043.7 1707.9,1037.9 C1711.9,1032.1 1715.5,1026.9 1719.9,1023.2 C1724.3,1019.6 1729.8,1016.4 1734.5,1016.0 C1739.2,1015.6 1743.0,1017.4 1747.9,1020.6 C1752.8,1023.8 1757.7,1030.5 1763.9,1035.2 C1770.1,1040.0 1779.4,1045.4 1785.2,1049.1 C1791.0,1052.8 1795.0,1055.4 1798.5,1057.1 C1802.0,1058.8 1804.0,1059.1 1806.5,1059.2 C1809.0,1059.3 1810.8,1059.5 1813.2,1057.9 C1815.7,1056.4 1817.0,1057.2 1821.2,1049.9 C1825.4,1042.6 1831.6,1026.1 1838.5,1013.9 C1845.4,1001.7 1856.3,987.3 1862.5,976.6 C1868.7,965.9 1871.8,957.2 1875.8,949.9 C1879.8,942.6 1881.6,939.9 1886.5,932.6 C1891.4,925.3 1898.4,915.8 1905.1,906.0 C1911.8,896.2 1920.0,883.2 1926.4,874.0 C1932.9,864.8 1940.9,854.7 1943.8,850.8" fill="none" stroke="#7f9ff5" stroke-width="2.4" stroke-linecap="round" stroke-linejoin="round"/>
<g transform="translate(1472.3,1224.4)" stroke="#9c27b0" fill="none"><circle r="12.4" stroke-width="1.7"/><path d="M4.6,-6.4 L-6.1,1.3 L0.1,0.7 L-4.0,6.9 L6.5,-1.1 L0.4,-0.5 Z" fill="#9c27b0" stroke="none"/></g>
<path d="M1993,208.7 H2074 a2,2 0 0 1 2,2 V227.4 a2,2 0 0 1 -2,2 H1993 Z" fill="#f23645"/>
<text x="2004.4" y="223.6" font-size="15.8" fill="#ffffff" font-weight="bold" text-anchor="start" textLength="65.6" lengthAdjust="spacingAndGlyphs">71,815.62</text>
<path d="M1993,421.9 H2074 a2,2 0 0 1 2,2 V440.5 a2,2 0 0 1 -2,2 H1993 Z" fill="#4caf50"/>
<text x="2004.4" y="436.7" font-size="15.8" fill="#ffffff" font-weight="bold" text-anchor="start" textLength="65.6" lengthAdjust="spacingAndGlyphs">70,183.93</text>
<path d="M1993,444.3 H2074 a2,2 0 0 1 2,2 V462.9 a2,2 0 0 1 -2,2 H1993 Z" fill="#4caf50"/>
<text x="2004.4" y="459.1" font-size="15.8" fill="#ffffff" font-weight="bold" text-anchor="start" textLength="65.6" lengthAdjust="spacingAndGlyphs">70,094.27</text>
<path d="M1993,502.2 H2074 a2,2 0 0 1 2,2 V520.8 a2,2 0 0 1 -2,2 H1993 Z" fill="#f23645"/>
<text x="2004.4" y="517.0" font-size="15.8" fill="#ffffff" font-weight="bold" text-anchor="start" textLength="65.6" lengthAdjust="spacingAndGlyphs">69,673.06</text>
<path d="M1993,816.0 H2074 a2,2 0 0 1 2,2 V834.6 a2,2 0 0 1 -2,2 H1993 Z" fill="#f23645"/>
<text x="2004.4" y="830.8" font-size="15.8" fill="#ffffff" font-weight="bold" text-anchor="start" textLength="65.6" lengthAdjust="spacingAndGlyphs">67,446.19</text>
<path d="M1993,941.0 H2074 a2,2 0 0 1 2,2 V977.8 a2,2 0 0 1 -2,2 H1993 Z" fill="#131722"/>
<text x="2004.4" y="955.7" font-size="15.8" fill="#ffffff" font-weight="bold" text-anchor="start" textLength="65.6" lengthAdjust="spacingAndGlyphs">66,578.84</text>
<text x="2004.4" y="974.4" font-size="15.9" fill="#c8c9cd" font-weight="normal" text-anchor="start" textLength="36.0" lengthAdjust="spacingAndGlyphs">11:33</text>
<path d="M1993,991.1 H2074 a2,2 0 0 1 2,2 V1010.0 a2,2 0 0 1 -2,2 H1993 Z" fill="#2962ff"/>
<text x="2004.4" y="1006.0" font-size="15.8" fill="#ffffff" font-weight="bold" text-anchor="start" textLength="65.6" lengthAdjust="spacingAndGlyphs">66,232.50</text>
<path d="M1993,1051.9 H2074 a2,2 0 0 1 2,2 V1070.8 a2,2 0 0 1 -2,2 H1993 Z" fill="#f23645"/>
<text x="2004.4" y="1066.8" font-size="15.8" fill="#ffffff" font-weight="bold" text-anchor="start" textLength="65.6" lengthAdjust="spacingAndGlyphs">65,815.93</text>
<path d="M1993,1132.9 H2074 a2,2 0 0 1 2,2 V1151.8 a2,2 0 0 1 -2,2 H1993 Z" fill="#f23645"/>
<text x="2004.4" y="1147.8" font-size="15.8" fill="#ffffff" font-weight="bold" text-anchor="start" textLength="65.6" lengthAdjust="spacingAndGlyphs">65,262.88</text>
<path d="M1993,1220.0 H2074 a2,2 0 0 1 2,2 V1238.7 a2,2 0 0 1 -2,2 H1993 Z" fill="#0c0c0c"/>
<text x="2004.4" y="1234.8" font-size="15.8" fill="#ffffff" font-weight="bold" text-anchor="start" textLength="65.6" lengthAdjust="spacingAndGlyphs">64,588.23</text>
<text x="157.5" y="1264.3" font-size="16" fill="#787b86" font-weight="normal" text-anchor="middle" textLength="15.7" lengthAdjust="spacingAndGlyphs">21</text>
<text x="359.0" y="1264.3" font-size="16" fill="#787b86" font-weight="normal" text-anchor="middle" textLength="15.7" lengthAdjust="spacingAndGlyphs">22</text>
<text x="560.9" y="1264.3" font-size="16" fill="#666975" font-weight="bold" text-anchor="middle" textLength="16.5" lengthAdjust="spacingAndGlyphs">23</text>
<text x="762.0" y="1264.3" font-size="16" fill="#787b86" font-weight="normal" text-anchor="middle" textLength="15.7" lengthAdjust="spacingAndGlyphs">24</text>
<text x="962.5" y="1264.3" font-size="16" fill="#787b86" font-weight="normal" text-anchor="middle" textLength="15.7" lengthAdjust="spacingAndGlyphs">25</text>
<text x="1163.5" y="1264.3" font-size="16" fill="#787b86" font-weight="normal" text-anchor="middle" textLength="15.7" lengthAdjust="spacingAndGlyphs">26</text>
<text x="1365.0" y="1264.3" font-size="16" fill="#787b86" font-weight="normal" text-anchor="middle" textLength="15.7" lengthAdjust="spacingAndGlyphs">27</text>
<text x="1566.3" y="1264.3" font-size="16" fill="#787b86" font-weight="normal" text-anchor="middle" textLength="15.7" lengthAdjust="spacingAndGlyphs">28</text>
<text x="1767.5" y="1264.3" font-size="16" fill="#787b86" font-weight="normal" text-anchor="middle" textLength="15.7" lengthAdjust="spacingAndGlyphs">29</text>
<text x="1969.0" y="1264.3" font-size="16" fill="#666975" font-weight="bold" text-anchor="middle" textLength="16.5" lengthAdjust="spacingAndGlyphs">30</text>
</g>
<g fill="#0e0e10"><path d="M15.3,1303.5H30.45V1321.8H23.05V1310.6H15.3Z"/><circle cx="36.8" cy="1307.3" r="3.9"/><path d="M44.4,1303.5H52.85L45.8,1321.8H37Z"/></g>
<text x="61.8" y="1321.8" font-size="26.6" font-weight="bold" fill="#0e0e10" textLength="151.2" lengthAdjust="spacingAndGlyphs">TradingView</text>
</svg></body></html>
